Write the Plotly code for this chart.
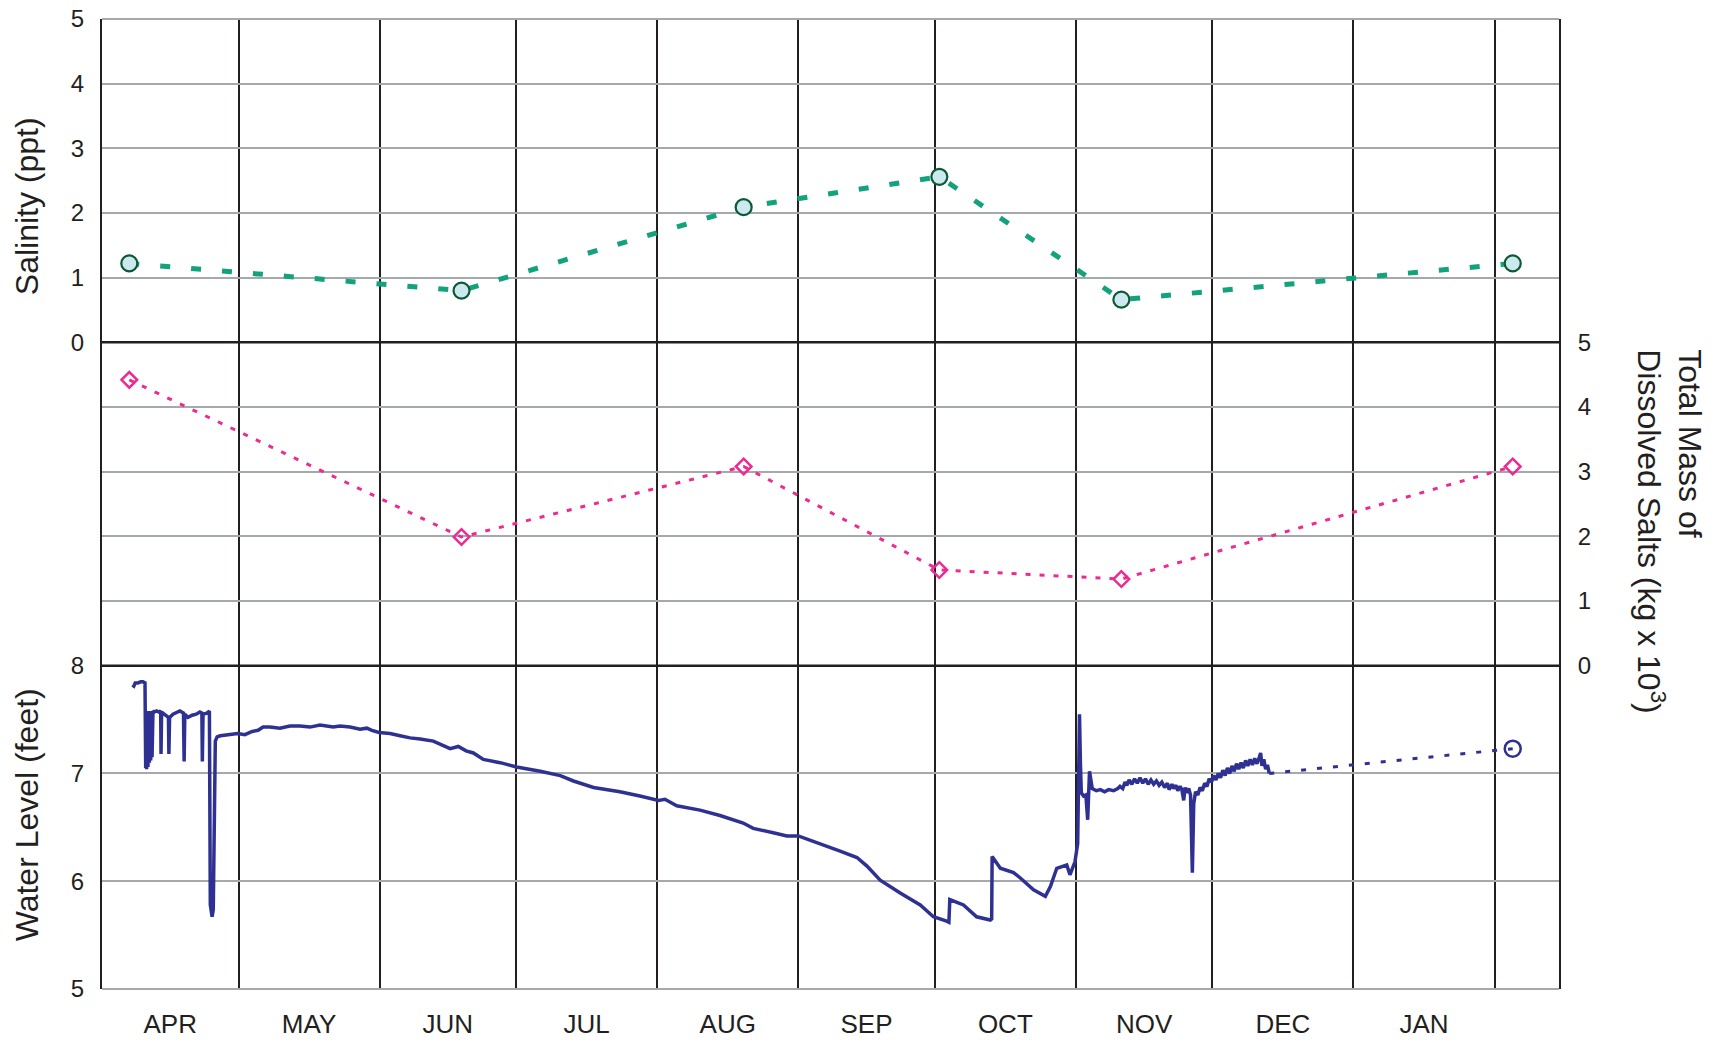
import pandas as pd
import plotly.graph_objects as go
from plotly.subplots import make_subplots

# ---------------- data ----------------
record_start = "2007-04-01"
x_range_end = "2008-02-15 04:00"

sample_dates = ["2007-04-07", "2007-06-19", "2007-08-20", "2007-10-02", "2007-11-11", "2008-02-05"]
salinity_ppt = [1.22, 0.80, 2.09, 2.56, 0.66, 1.22]
dissolved_salts_kg1e3 = [4.42, 1.99, 3.08, 1.48, 1.34, 3.08]

# continuous water-level record: day of record (days after 1 April) and level (feet)
wl_day = [
    6.66, 7.0, 7.3, 7.9, 8.5, 9.0, 9.45,
    9.6, 9.7, 9.8, 9.95, 10.1, 10.25, 10.4, 10.55, 10.7, 10.85, 11.0, 11.2, 11.5,
    12.0, 12.5, 12.9, 12.97, 13.1, 13.8, 14.6, 14.7, 14.85, 15.6, 16.3, 17.1, 17.9,
    18.05, 18.2, 18.9, 19.8, 20.7, 21.5, 21.95, 22.05, 22.2, 23.1, 23.6,
    23.8, 24.2, 24.45, 24.9, 25.3, 26.0, 27.7, 29.8, 31.4, 33.0, 34.3, 35.4, 36.9,
    39.1, 41.3, 43.5, 45.7, 47.9, 50.8, 52.3, 54.5, 56.7, 58.2, 59.3, 60.9, 63.3,
    65.5, 67.7, 69.9, 72.8, 76.5, 78.3, 80.0, 81.6, 83.8, 87.5, 91.1, 94.1, 96.3,
    100.7, 103.6, 108.0, 113.8, 118.2, 122.3, 123.7, 126.3, 131.4, 135.8, 140.9,
    143.1, 147.5, 150.5, 153.0, 157.1, 162.2, 165.9, 168.1, 171.0, 175.4, 179.8,
    182.7, 185.6, 186.1, 186.3, 189.3, 192.2, 195.2, 195.5, 195.6, 197.4, 200.3,
    201.8, 204.7, 207.3, 208.4, 209.8, 211.0, 212.0, 212.7, 213.8, 214.4, 214.6,
    214.8, 215.0, 215.2, 215.7, 216.2, 216.6, 217.0, 217.6, 218.5, 219.4, 220.3,
    221.2, 222.3, 223.2, 223.7, 224.3, 224.8, 225.2, 225.7, 226.3, 226.9, 227.5,
    228.1, 228.7, 229.3, 229.9, 230.5, 231.1, 231.7, 232.3, 232.9, 233.5, 234.1,
    234.5, 235.1, 235.5, 236.0, 236.4, 236.9, 237.3, 237.7, 238.0, 238.4, 238.8,
    239.2, 239.6, 239.9, 240.3, 240.8, 241.3, 241.8, 242.3, 242.8, 243.3, 243.8,
    244.3, 244.8, 245.3, 245.8, 246.3, 246.8, 247.3, 247.8, 248.3, 248.8, 249.3,
    249.8, 250.3, 250.8, 251.3, 251.8, 252.3, 252.8, 253.3, 253.8, 254.3, 254.6,
    254.9, 255.3, 255.7, 256.1, 256.5,
]
wl_feet = [
    7.82, 7.81, 7.84, 7.84, 7.85, 7.85, 7.84,
    7.05, 7.56, 7.04, 7.58, 7.06, 7.57, 7.10, 7.58, 7.12, 7.57, 7.15, 7.58, 7.57,
    7.58, 7.57, 7.58, 7.18, 7.57, 7.55, 7.52, 7.18, 7.52, 7.55, 7.56, 7.58, 7.56,
    7.11, 7.55, 7.52, 7.54, 7.55, 7.57, 7.56, 7.11, 7.55, 7.56, 7.58,
    5.78, 5.67, 5.74, 7.30, 7.34, 7.35, 7.36, 7.37, 7.36, 7.39, 7.40, 7.43, 7.43,
    7.42, 7.44, 7.44, 7.43, 7.45, 7.43, 7.44, 7.43, 7.41, 7.42, 7.40, 7.38, 7.37,
    7.35, 7.33, 7.32, 7.30, 7.23, 7.25, 7.21, 7.19, 7.13, 7.10, 7.06, 7.04, 7.02,
    6.98, 6.93, 6.87, 6.83, 6.79, 6.75, 6.76, 6.70, 6.66, 6.61, 6.54,
    6.49, 6.45, 6.42, 6.42, 6.36, 6.28, 6.22, 6.14, 6.01, 5.89, 5.78,
    5.67, 5.63, 5.62, 5.83, 5.78, 5.67, 5.64, 5.65, 6.23, 6.12, 6.08,
    6.03, 5.92, 5.86, 5.95, 6.12, 6.14, 6.15, 6.06, 6.18, 6.35, 6.90,
    7.55, 7.10, 6.82, 6.79, 6.80, 6.57, 7.02, 6.86, 6.84, 6.85, 6.83,
    6.85, 6.84, 6.86, 6.88, 6.86, 6.92, 6.89, 6.94, 6.90, 6.95, 6.91,
    6.96, 6.91, 6.95, 6.90, 6.94, 6.90, 6.93, 6.89, 6.92, 6.87, 6.91,
    6.85, 6.90, 6.86, 6.89, 6.84, 6.88, 6.85, 6.75, 6.87, 6.82, 6.86,
    6.80, 6.08, 6.72, 6.83, 6.80, 6.87, 6.84, 6.91, 6.88, 6.95, 6.92,
    6.98, 6.94, 7.00, 6.96, 7.03, 6.98, 7.05, 7.00, 7.07, 7.02, 7.09,
    7.04, 7.10, 7.05, 7.12, 7.07, 7.13, 7.08, 7.14, 7.09, 7.15, 7.19,
    7.07, 7.13, 7.04, 7.08, 7.00,
]
wl_survey_date = "2008-02-05"
wl_survey_feet = 7.23

month_alias = {"Apr": "APR", "May": "MAY", "Jun": "JUN", "Jul": "JUL", "Aug": "AUG",
               "Sep": "SEP", "Oct": "OCT", "Nov": "NOV", "Dec": "DEC", "Jan": "JAN",
               "Feb": " "}

salinity_ticks = [0, 1, 2, 3, 4, 5]
salts_ticks = [0, 1, 2, 3, 4, 5]
level_ticks = [5, 6, 7, 8]

# ---------------- styling ----------------
FONT = "Liberation Sans, Arial, Helvetica, sans-serif"
INK = "#231f20"
GRID = "#a6a9ac"
GREEN = "#12a37d"
PINK = "#ec2a90"
NAVY = "#2e3192"

wl_dates = pd.Timestamp(record_start) + pd.to_timedelta(wl_day, unit="D")

fig = make_subplots(rows=3, cols=1, shared_xaxes=True, vertical_spacing=0)

fig.add_trace(go.Scatter(
    x=sample_dates, y=salinity_ppt, mode="lines+markers",
    line=dict(color=GREEN, width=5, dash="10px,21px"),
    marker=dict(symbol="circle", size=16, color="#cde9f0",
                line=dict(color="#0b5a33", width=2.2)),
    showlegend=False), row=1, col=1)

fig.add_trace(go.Scatter(
    x=sample_dates, y=dissolved_salts_kg1e3, mode="lines+markers",
    line=dict(color=PINK, width=3, dash="5px,9px"),
    marker=dict(symbol="diamond-open", size=12, color=PINK, line=dict(color=PINK, width=2.5)),
    showlegend=False), row=2, col=1)

fig.add_trace(go.Scatter(
    x=wl_dates, y=wl_feet, mode="lines",
    line=dict(color=NAVY, width=3.5),
    showlegend=False), row=3, col=1)

fig.add_trace(go.Scatter(
    x=[wl_dates[-1], pd.Timestamp(wl_survey_date)], y=[wl_feet[-1], wl_survey_feet],
    mode="lines", line=dict(color=NAVY, width=3, dash="5px,11px"),
    showlegend=False), row=3, col=1)

fig.add_trace(go.Scatter(
    x=[wl_survey_date], y=[wl_survey_feet], mode="markers",
    marker=dict(symbol="circle-open", size=16, color=NAVY, line=dict(color=NAVY, width=2.5)),
    showlegend=False), row=3, col=1)

xcommon = dict(
    range=[record_start, x_range_end], type="date", automargin=False,
    dtick="M1", tick0=record_start, tickformat="%b", ticklabelmode="period",
    labelalias=month_alias, showgrid=True, gridcolor=INK, gridwidth=2,
    ticks="", showline=False, zeroline=False,
    tickfont=dict(family=FONT, size=26, color=INK),
)
fig.update_xaxes(**xcommon)
fig.update_xaxes(showticklabels=True, ticklabelstandoff=17, row=3, col=1)

ycommon = dict(
    showgrid=True, gridcolor=GRID, gridwidth=2, zeroline=False, automargin=False,
    showline=True, linecolor=INK, linewidth=2, mirror=True, ticks="",
    tickfont=dict(family=FONT, size=24, color=INK),
)
fig.update_yaxes(range=[0, 5], tickvals=salinity_ticks, ticklabelstandoff=11, **ycommon, row=1, col=1)
fig.update_yaxes(range=[0, 5], tickvals=salts_ticks, side="right", ticklabelstandoff=12, **ycommon, row=2, col=1)
fig.update_yaxes(range=[5, 8], tickvals=level_ticks, ticklabelstandoff=11, **ycommon, row=3, col=1)

shapes = []
for yy, col, w in [(1 / 3, INK, 2.5), (2 / 3, INK, 2.5), (0, GRID, 2), (1, GRID, 2)]:
    shapes.append(dict(type="line", xref="paper", yref="paper", x0=0, x1=1, y0=yy, y1=yy,
                       line=dict(color=col, width=w), layer="above"))

annotations = [
    dict(text="Salinity (ppt)", xref="paper", yref="paper", x=0, y=0.807,
         xshift=-75, xanchor="center", yanchor="middle", textangle=-90, showarrow=False,
         font=dict(family=FONT, size=32, color=INK)),
    dict(text="Water Level (feet)", xref="paper", yref="paper", x=0, y=0.179,
         xshift=-75, xanchor="center", yanchor="middle", textangle=-90, showarrow=False,
         font=dict(family=FONT, size=32, color=INK)),
    dict(text="Total Mass of<br>Dissolved Salts (kg x 10<sup>3</sup>)", xref="paper", yref="paper",
         x=1, y=0.472, xshift=110, xanchor="center", yanchor="middle", textangle=90,
         align="left", showarrow=False, font=dict(family=FONT, size=32, color=INK)),
]

fig.update_layout(
    width=1724, height=1040,
    margin=dict(l=102, r=165, t=19, b=51, autoexpand=False),
    paper_bgcolor="white", plot_bgcolor="white",
    shapes=shapes, annotations=annotations,
    font=dict(family=FONT, color=INK),
    showlegend=False,
)

# remove the browser's default 8px page margin so the figure fills the window exactly
fig.write_html("out.html", config={"displayModeBar": False},
               post_script="document.body.style.margin='0';document.body.style.overflow='hidden';")
